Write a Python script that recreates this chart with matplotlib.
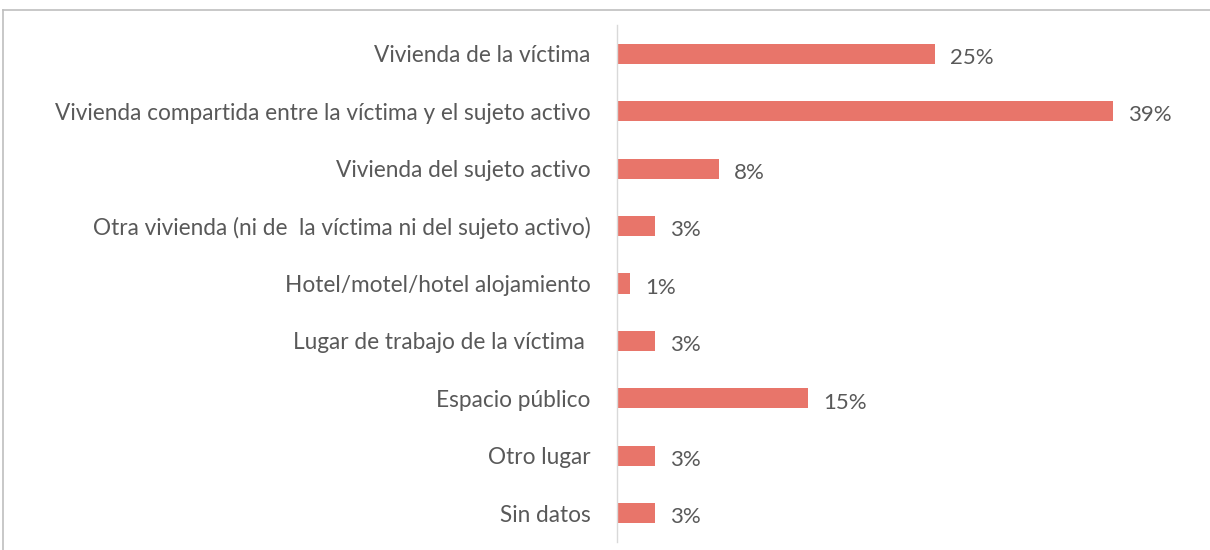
import matplotlib.pyplot as plt
from matplotlib.lines import Line2D

# lugares del hecho
categories = ['Vivienda de la víctima',
              'Vivienda compartida entre la víctima y el sujeto activo',
              'Vivienda del sujeto activo',
              'Otra vivienda (ni de  la víctima ni del sujeto activo)',
              'Hotel/motel/hotel alojamiento',
              'Lugar de trabajo de la víctima ',
              'Espacio público',
              'Otro lugar',
              'Sin datos']
values = [25, 39, 8, 3, 1, 3, 15, 3, 3]
value_labels = ['25%', '39%', '8%', '3%', '1%', '3%', '15%', '3%', '3%']

BAR_COLOR = '#E8756A'
TEXT_COLOR = '#595959'

plt.rcParams['font.family'] = ['Lato', 'DejaVu Sans']

fig = plt.figure(figsize=(12.1, 5.5), dpi=100)
ax = fig.add_axes([617 / 1210, 8 / 550, (1189 - 617) / 1210, (542 - 25) / 550])

y = list(range(len(categories)))
bars = ax.barh(y, values, height=0.35, color=BAR_COLOR)
ax.set_ylim(len(categories) - 0.5, -0.5)
ax.set_xlim(0, 45)

ax.set_yticks(y)
ax.set_yticklabels(categories, fontsize=16.3, color=TEXT_COLOR)
ax.tick_params(axis='y', length=0, pad=19)
ax.set_xticks([])

for s in ['top', 'right', 'bottom']:
    ax.spines[s].set_visible(False)
ax.spines['left'].set_color('#D9D9D9')
ax.spines['left'].set_linewidth(1)

labels = ax.bar_label(bars, labels=value_labels, padding=11, fontsize=16, color=TEXT_COLOR)
# bajar un poco las etiquetas para centrarlas como en el original
for lab in labels:
    lab.xyann = (11, -3)

# marco del grafico (arriba e izquierda)
fig.add_artist(Line2D([3 / 1210, 3 / 1210], [0, 1 - 10 / 550], transform=fig.transFigure,
                      color='#BFBFBF', linewidth=1.2))
fig.add_artist(Line2D([3 / 1210, 1], [1 - 10 / 550, 1 - 10 / 550], transform=fig.transFigure,
                      color='#BFBFBF', linewidth=1.2))

fig.savefig('out.png', dpi=100)
